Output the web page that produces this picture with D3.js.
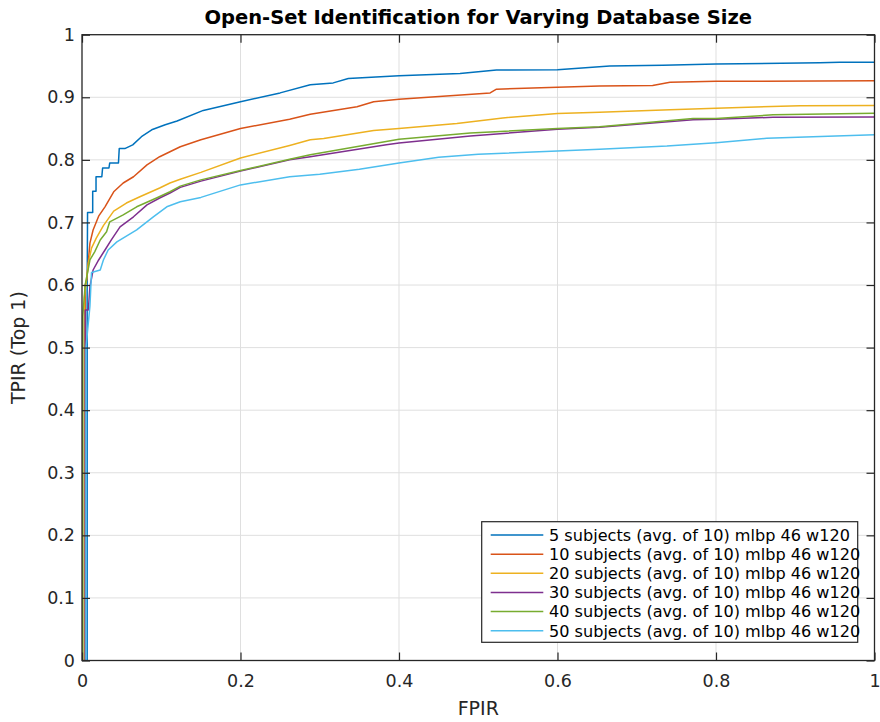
<!DOCTYPE html>
<html>
<head>
<meta charset="utf-8">
<script src="https://cdn.jsdelivr.net/npm/d3@7"></script>
<style>
  html, body { margin: 0; padding: 0; background: #fff; }
  svg { display: block; font-family: "DejaVu Sans", sans-serif; }
</style>
</head>
<body>
<svg id="chart" width="880" height="722"></svg>
<script>
const title = "Open-Set Identification for Varying Database Size";
const xLabel = "FPIR";
const yLabel = "TPIR (Top 1)";
const xTicks = [0, 0.2, 0.4, 0.6, 0.8, 1];
const yTicks = [0, 0.1, 0.2, 0.3, 0.4, 0.5, 0.6, 0.7, 0.8, 0.9, 1];
const seriesNames = [
  "5 subjects (avg. of 10) mlbp 46 w120",
  "10 subjects (avg. of 10) mlbp 46 w120",
  "20 subjects (avg. of 10) mlbp 46 w120",
  "30 subjects (avg. of 10) mlbp 46 w120",
  "40 subjects (avg. of 10) mlbp 46 w120",
  "50 subjects (avg. of 10) mlbp 46 w120"
];
const seriesColors = ["#0072BD", "#D95319", "#EDB120", "#7E2F8E", "#77AC30", "#4DBEEE"];

// [FPIR, TPIR] pairs
const s5 = [[0.0065,0],[0.0065,0.59],[0.007,0.716],[0.0135,0.716],[0.0135,0.75],[0.0177,0.75],[0.0177,0.773],[0.025,0.773],[0.026,0.787],[0.034,0.787],[0.035,0.795],[0.046,0.795],[0.047,0.818],[0.054,0.818],[0.064,0.824],[0.075,0.837],[0.088,0.848],[0.105,0.856],[0.12,0.862],[0.153,0.879],[0.2,0.893],[0.25,0.907],[0.288,0.92],[0.317,0.923],[0.336,0.93],[0.4,0.9345],[0.477,0.938],[0.523,0.9436],[0.6,0.944],[0.666,0.95],[0.733,0.951],[0.8,0.953],[0.931,0.955],[0.956,0.956],[1,0.956]];
const s10 = [[0.004,0],[0.004,0.6],[0.006,0.608],[0.010,0.667],[0.014,0.688],[0.021,0.71],[0.029,0.725],[0.040,0.749],[0.052,0.763],[0.065,0.773],[0.082,0.792],[0.098,0.805],[0.111,0.813],[0.124,0.821],[0.15,0.832],[0.2,0.850],[0.262,0.865],[0.288,0.873],[0.347,0.885],[0.368,0.893],[0.4,0.897],[0.515,0.907],[0.523,0.913],[0.6,0.916],[0.653,0.918],[0.72,0.919],[0.742,0.924],[0.8,0.9255],[1,0.9265]];
const s20 = [[0.003,0],[0.003,0.58],[0.008,0.635],[0.012,0.659],[0.018,0.675],[0.027,0.695],[0.040,0.718],[0.056,0.731],[0.073,0.741],[0.098,0.755],[0.111,0.763],[0.124,0.769],[0.15,0.78],[0.2,0.803],[0.262,0.823],[0.288,0.832],[0.305,0.834],[0.368,0.847],[0.4,0.850],[0.473,0.858],[0.531,0.867],[0.6,0.874],[0.653,0.876],[0.742,0.880],[0.8,0.8825],[0.906,0.8866],[1,0.887]];
const s30 = [[0.004,0],[0.004,0.56],[0.008,0.56],[0.010,0.597],[0.014,0.624],[0.021,0.640],[0.029,0.656],[0.037,0.672],[0.048,0.693],[0.065,0.709],[0.082,0.728],[0.098,0.739],[0.111,0.747],[0.124,0.756],[0.15,0.766],[0.2,0.782],[0.262,0.800],[0.288,0.805],[0.384,0.824],[0.4,0.827],[0.49,0.838],[0.6,0.849],[0.653,0.852],[0.771,0.864],[0.8,0.865],[0.872,0.868],[1,0.8685]];
const s40 = [[0.001,0],[0.001,0.55],[0.004,0.6],[0.010,0.640],[0.016,0.653],[0.023,0.672],[0.031,0.685],[0.035,0.701],[0.052,0.712],[0.069,0.725],[0.094,0.739],[0.111,0.749],[0.124,0.758],[0.15,0.768],[0.2,0.783],[0.262,0.801],[0.288,0.808],[0.4,0.833],[0.49,0.843],[0.6,0.850],[0.653,0.853],[0.771,0.866],[0.8,0.866],[0.872,0.872],[1,0.8745]];
const s50 = [[0.005,0],[0.005,0.5],[0.010,0.566],[0.012,0.62],[0.023,0.624],[0.027,0.640],[0.033,0.656],[0.044,0.669],[0.069,0.688],[0.090,0.709],[0.107,0.725],[0.124,0.733],[0.15,0.740],[0.2,0.760],[0.262,0.773],[0.3,0.777],[0.35,0.785],[0.4,0.795],[0.45,0.804],[0.5,0.809],[0.6,0.814],[0.653,0.817],[0.738,0.822],[0.8,0.8275],[0.864,0.8345],[1,0.840]];
const seriesData = [s5, s10, s20, s30, s40, s50];

const svg = d3.select("#chart");
const L = 82, R = 874.5, T = 34.7, B = 660.5;
const x = d3.scaleLinear().domain([0, 1]).range([L, R]);
const y = d3.scaleLinear().domain([0, 1]).range([B, T]);
const axisColor = "#262626";
const gridColor = "#dfdfdf";
const fmt = d => (d === 0 || d === 1) ? String(d) : d.toFixed(1);

// grid
const grid = svg.append("g");
grid.selectAll("line.gx").data(xTicks.slice(1, -1)).join("line")
  .attr("x1", d => x(d)).attr("x2", d => x(d)).attr("y1", T).attr("y2", B)
  .attr("stroke", gridColor).attr("stroke-width", 1);
grid.selectAll("line.gy").data(yTicks.slice(1, -1)).join("line")
  .attr("x1", L).attr("x2", R).attr("y1", d => y(d)).attr("y2", d => y(d))
  .attr("stroke", gridColor).attr("stroke-width", 1);

// lines
const line = d3.line().x(d => x(d[0])).y(d => y(d[1]));
svg.append("g").selectAll("path").data(seriesData).join("path")
  .attr("d", line)
  .attr("fill", "none")
  .attr("stroke", (d, i) => seriesColors[i])
  .attr("stroke-width", 1.5)
  .attr("stroke-linejoin", "round");

// axes
const tickLen = 8;
function styleAxis(g, showText) {
  g.select(".domain").remove();
  g.selectAll(".tick line").attr("stroke", axisColor).attr("stroke-width", 1.2);
  g.selectAll(".tick text").attr("fill", axisColor).style("font-size", "17.5px")
    .style("font-family", "'DejaVu Sans', sans-serif");
  if (!showText) g.selectAll(".tick text").remove();
}
svg.append("g").attr("transform", `translate(0,${B})`)
  .call(d3.axisBottom(x).tickValues(xTicks).tickFormat(fmt).tickSize(-tickLen).tickPadding(14))
  .call(g => styleAxis(g, true));
svg.append("g").attr("transform", `translate(0,${T})`)
  .call(d3.axisTop(x).tickValues(xTicks).tickSize(-tickLen))
  .call(g => styleAxis(g, false));
svg.append("g").attr("transform", `translate(${L},0)`)
  .call(d3.axisLeft(y).tickValues(yTicks).tickFormat(fmt).tickSize(-tickLen).tickPadding(7))
  .call(g => styleAxis(g, true));
svg.append("g").attr("transform", `translate(${R},0)`)
  .call(d3.axisRight(y).tickValues(yTicks).tickSize(-tickLen))
  .call(g => styleAxis(g, false));

// box
svg.append("rect").attr("x", L).attr("y", T).attr("width", R - L).attr("height", B - T)
  .attr("fill", "none").attr("stroke", axisColor).attr("stroke-width", 1.3);

// title & labels
svg.append("text").attr("x", (L + R) / 2).attr("y", 24).attr("text-anchor", "middle")
  .attr("font-weight", "bold").attr("font-size", 19.5).attr("fill", "#000").text(title);
svg.append("text").attr("x", (L + R) / 2).attr("y", 715).attr("text-anchor", "middle")
  .attr("font-size", 19).attr("fill", axisColor).text(xLabel);
svg.append("text").attr("transform", `translate(25,${(T + B) / 2}) rotate(-90)`)
  .attr("text-anchor", "middle").attr("font-size", 19).attr("fill", axisColor).text(yLabel);

// legend
const lg = svg.append("g");
lg.append("rect").attr("x", 481.7).attr("y", 521.7).attr("width", 376).attr("height", 120.6)
  .attr("fill", "#fff").attr("stroke", axisColor).attr("stroke-width", 1.2);
const rows = lg.selectAll("g.row").data(seriesNames).join("g")
  .attr("transform", (d, i) => `translate(0,${535 + i * 19.15})`);
rows.append("line").attr("x1", 490.7).attr("x2", 543.3).attr("y1", 0).attr("y2", 0)
  .attr("stroke", (d, i) => seriesColors[i]).attr("stroke-width", 1.5);
rows.append("text").attr("x", 549).attr("y", 0).attr("dy", "0.36em")
  .attr("font-size", 16.1).attr("fill", "#000").text(d => d);
</script>
</body>
</html>
